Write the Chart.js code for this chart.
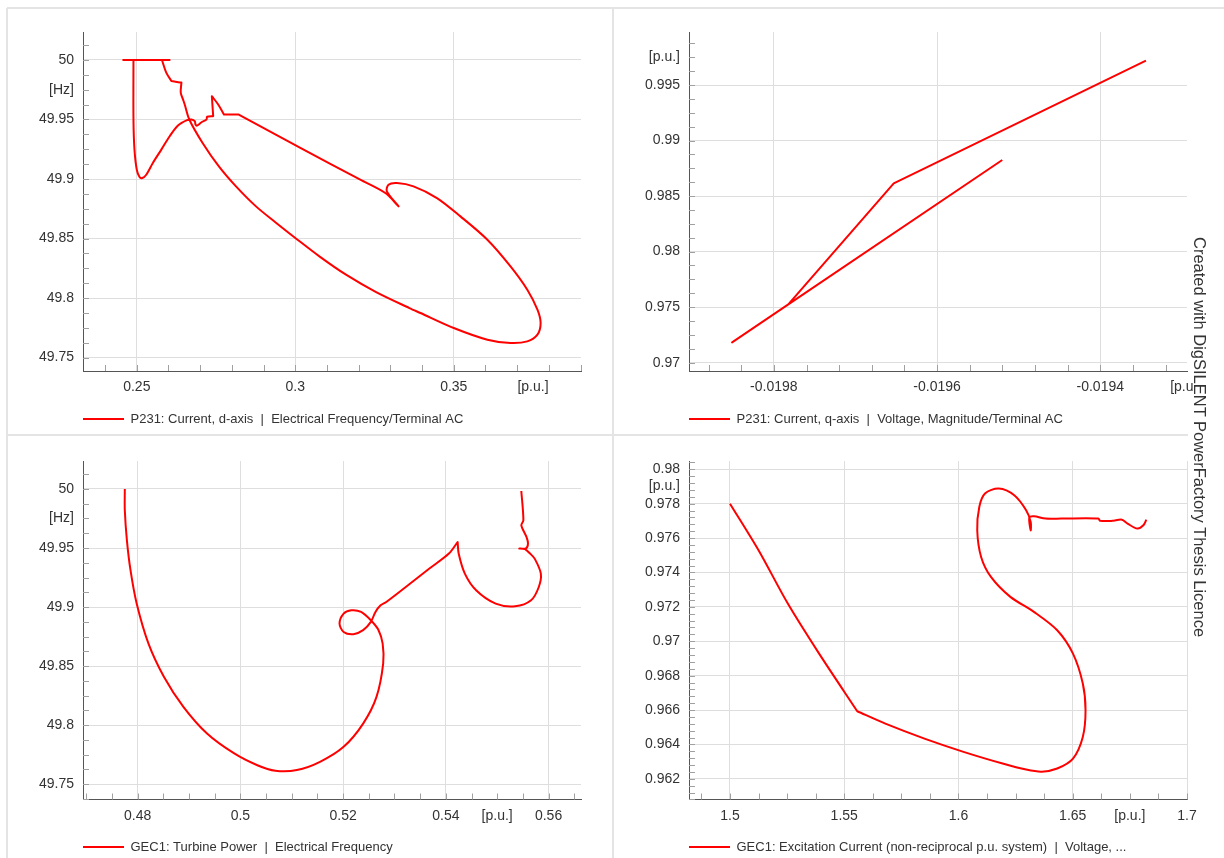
<!DOCTYPE html>
<html>
<head>
<meta charset="utf-8">
<script src="https://cdn.jsdelivr.net/npm/chart.js@4.4.1/dist/chart.umd.min.js"></script>
<style>
  html, body { margin: 0; padding: 0; background: #fff; width: 1224px; height: 858px; overflow: hidden; }
  body { position: relative; }
  canvas { position: absolute; }
  .rule { position: absolute; background: #e4e4e4; }
  #credit { position: absolute; left: 1190px; top: 237px; writing-mode: vertical-rl; font: 16.5px "Liberation Sans", Arial, sans-serif; line-height: 20px; color: #333; white-space: nowrap; }
</style>
</head>
<body>
<div class="rule" style="left:7px;top:7px;width:1217px;height:2px"></div>
<div class="rule" style="left:6px;top:8px;width:2px;height:850px"></div>
<div class="rule" style="left:612px;top:8px;width:2px;height:850px"></div>
<div class="rule" style="left:7px;top:434px;width:1181px;height:2px"></div>
<canvas id="c1" width="606" height="440" style="left:7px;top:8px"></canvas>
<canvas id="c2" width="606" height="440" style="left:613px;top:8px"></canvas>
<canvas id="c3" width="606" height="440" style="left:7px;top:436px"></canvas>
<canvas id="c4" width="606" height="440" style="left:613px;top:436px"></canvas>
<div id="credit">Created with DigSILENT PowerFactory Thesis Licence</div>
<script>
// P231: d-axis current vs frequency
var p1X = [0.2606, 0.2458, 0.24895, 0.24895, 0.24895, 0.24927, 0.25, 0.25086, 0.25171, 0.25298, 0.25507, 0.25774, 0.26037, 0.263, 0.26585, 0.26725, 0.2683, 0.26852, 0.26902, 0.27042, 0.272, 0.2722, 0.2741, 0.2741, 0.27368, 0.27368, 0.27568, 0.27749, 0.27749, 0.28202, 0.28202, 0.3016, 0.3205, 0.3284, 0.3326, 0.3326, 0.3289, 0.3294, 0.3321, 0.3373, 0.3447, 0.3521, 0.3606, 0.3679, 0.3732, 0.3764, 0.3774, 0.3764, 0.3732, 0.3679, 0.3606, 0.35, 0.3395, 0.336, 0.3255, 0.316, 0.3076, 0.3, 0.2938, 0.2876, 0.2813, 0.2759, 0.27076, 0.26656, 0.26512, 0.26458, 0.26386, 0.26408, 0.26408, 0.26268, 0.2609, 0.2609, 0.2593, 0.25793];
var p1Y = [50, 50, 50, 50, 49.95, 49.9247, 49.9078, 49.9017, 49.9008, 49.9036, 49.9135, 49.9247, 49.9359, 49.9449, 49.9494, 49.95, 49.9486, 49.9458, 49.9449, 49.9477, 49.95, 49.9523, 49.9528, 49.9528, 49.9696, 49.9696, 49.9626, 49.9542, 49.9542, 49.9542, 49.9542, 49.9261, 49.8994, 49.8882, 49.877, 49.877, 49.8896, 49.8952, 49.8966, 49.8938, 49.884, 49.8686, 49.849, 49.8266, 49.807, 49.7902, 49.779, 49.7692, 49.7636, 49.7622, 49.765, 49.7748, 49.7874, 49.7916, 49.805, 49.8196, 49.835, 49.8505, 49.8635, 49.877, 49.8938, 49.9106, 49.9303, 49.95, 49.9626, 49.9669, 49.9725, 49.981, 49.981, 49.9815, 49.9823, 49.9823, 49.9894, 50];
var p1XTicks = [0.25, 0.3, 0.35, 0.375];
var p1XLabels = ['0.25', '0.3', '0.35', '[p.u.]'];
var p1YTicks = [49.75, 49.8, 49.85, 49.9, 49.95, 49.975, 50];
var p1YLabels = ['49.75', '49.8', '49.85', '49.9', '49.95', '[Hz]', '50'];

// P231: q-axis current vs voltage
var p2X = [-0.0195201, -0.0197823, -0.0198512, -0.0197823, -0.0196531, -0.019344];
var p2Y = [0.988247, 0.975252, 0.97183, 0.975252, 0.986147, 0.997191];
var p2XTicks = [-0.0198, -0.0196, -0.0194, -0.0193];
var p2XLabels = ['-0.0198', '-0.0196', '-0.0194', '[p.u'];
var p2YTicks = [0.97, 0.975, 0.98, 0.985, 0.99, 0.995, 0.9975];
var p2YLabels = ['0.97', '0.975', '0.98', '0.985', '0.99', '0.995', '[p.u.]'];

// GEC1: turbine power vs frequency
var p3X = [0.47749, 0.47749, 0.4779, 0.4786, 0.4798, 0.4821, 0.4851, 0.4889, 0.4935, 0.4988, 0.5033, 0.5068, 0.5110, 0.5155, 0.5201, 0.5239, 0.5265, 0.5278, 0.5277, 0.5269, 0.5254, 0.5235, 0.5216, 0.5201, 0.5193, 0.5201, 0.5220, 0.5239, 0.5254, 0.5263, 0.5273, 0.5284, 0.5322, 0.5368, 0.5406, 0.5423, 0.5423, 0.5425, 0.5437, 0.5459, 0.5497, 0.5535, 0.5566, 0.5581, 0.5585, 0.5573, 0.5564, 0.5554, 0.5543, 0.5556, 0.5560, 0.5557, 0.5547, 0.5551, 0.5547];
var p3Y = [50, 49.982, 49.9565, 49.9312, 49.903, 49.869, 49.841, 49.8155, 49.7929, 49.776, 49.766, 49.7613, 49.7619, 49.7689, 49.7816, 49.8013, 49.8239, 49.8521, 49.869, 49.8804, 49.8888, 49.8959, 49.8973, 49.8945, 49.886, 49.8789, 49.877, 49.8804, 49.8874, 49.8959, 49.9015, 49.9043, 49.917, 49.9326, 49.9453, 49.9551, 49.9551, 49.9453, 49.9283, 49.9142, 49.9029, 49.9007, 49.9058, 49.917, 49.9283, 49.941, 49.9453, 49.949, 49.9496, 49.9496, 49.9538, 49.9594, 49.9693, 49.9735, 49.9983];
var p3XTicks = [0.48, 0.5, 0.52, 0.54, 0.55, 0.56];
var p3XLabels = ['0.48', '0.5', '0.52', '0.54', '[p.u.]', '0.56'];
var p3YTicks = [49.75, 49.8, 49.85, 49.9, 49.95, 49.975, 50];
var p3YLabels = ['49.75', '49.8', '49.85', '49.9', '49.95', '[Hz]', '50'];

// GEC1: excitation current vs voltage
var p4X = [1.5, 1.5125, 1.5253, 1.539, 1.5557, 1.5557, 1.568, 1.5851, 1.6022, 1.6193, 1.6296, 1.6364, 1.6432, 1.6501, 1.6544, 1.6556, 1.6544, 1.6501, 1.6432, 1.633, 1.6227, 1.6142, 1.6099, 1.6082, 1.6091, 1.6116, 1.6176, 1.6244, 1.6296, 1.6316, 1.6316, 1.631, 1.633, 1.6381, 1.645, 1.6612, 1.662, 1.6672, 1.6715, 1.674, 1.6783, 1.6809, 1.6822];
var p4Y = [0.978, 0.97529, 0.97219, 0.96928, 0.96593, 0.96593, 0.96521, 0.96434, 0.96357, 0.96289, 0.96254, 0.96242, 0.9626, 0.96318, 0.96444, 0.96599, 0.96754, 0.96928, 0.97064, 0.97171, 0.97258, 0.97374, 0.9749, 0.97645, 0.97781, 0.97859, 0.97888, 0.97849, 0.97762, 0.97694, 0.97645, 0.97719, 0.97727, 0.97713, 0.97713, 0.97713, 0.977, 0.977, 0.97707, 0.97684, 0.97655, 0.97674, 0.97707];
var p4XTicks = [1.5, 1.55, 1.6, 1.65, 1.675, 1.7];
var p4XLabels = ['1.5', '1.55', '1.6', '1.65', '[p.u.]', '1.7'];
var p4YTicks = [0.962, 0.964, 0.966, 0.968, 0.97, 0.972, 0.974, 0.976, 0.978, 0.979, 0.98];
var p4YLabels = ['0.962', '0.964', '0.966', '0.968', '0.97', '0.972', '0.974', '0.976', '0.978', '[p.u.]', '0.98'];

var FONT = '"Liberation Sans", Arial, sans-serif';

// small inside tick marks on both axes, legend lined up with the plot's left edge
var minorTicks = {
  id: 'minorTicks',
  afterLayout: function(chart) {
    if (chart.legend) chart.legend.left = chart.chartArea.left - 10;
  },
  beforeDatasetsDraw: function(chart, args, opts) {
    var ctx = chart.ctx, a = chart.chartArea, x = chart.scales.x, y = chart.scales.y;
    ctx.save();
    ctx.strokeStyle = '#a0a0a0';
    ctx.lineWidth = 1;
    ctx.beginPath();
    var k, p;
    for (k = Math.ceil(x.min / opts.x - 1e-6); k * opts.x <= x.max + 1e-12; k++) {
      p = Math.round(x.getPixelForValue(k * opts.x)) + 0.5;
      ctx.moveTo(p, a.bottom);
      ctx.lineTo(p, a.bottom - 6);
    }
    for (k = Math.ceil(y.min / opts.y - 1e-6); k * opts.y <= y.max + 1e-12; k++) {
      p = Math.round(y.getPixelForValue(k * opts.y)) + 0.5;
      ctx.moveTo(a.left, p);
      ctx.lineTo(a.left + 6, p);
    }
    ctx.stroke();
    ctx.restore();
  }
};

function gridColor(labels) {
  return function(c) {
    return labels[c.index] && labels[c.index].charAt(0) === '[' ? 'rgba(0,0,0,0)' : '#dedede';
  };
}

function makeChart(id, name, xs, ys, xr, yr, xTicks, xLabels, yTicks, yLabels, minor, tension, top, xH, bottom) {
  var pts = xs.map(function(v, i) { return {x: v, y: ys[i]}; });
  return new Chart(document.getElementById(id), {
    type: 'scatter',
    data: {
      datasets: [{
        label: name,
        data: pts,
        showLine: true,
        borderColor: '#ff0000',
        backgroundColor: '#ff0000',
        borderWidth: 2,
        pointRadius: 0,
        tension: tension,
        borderJoinStyle: 'round'
      }]
    },
    plugins: [minorTicks],
    options: {
      responsive: false,
      animation: false,
      devicePixelRatio: 1,
      layout: { padding: { left: 16, right: 32, top: top, bottom: bottom } },
      plugins: {
        tooltip: { enabled: false },
        minorTicks: minor,
        legend: {
          position: 'bottom',
          align: 'start',
          labels: {
            usePointStyle: true,
            pointStyle: 'line',
            pointStyleWidth: 41,
            padding: 10,
            color: '#333',
            font: { family: FONT, size: 13 }
          }
        }
      },
      scales: {
        x: {
          type: 'linear',
          min: xr[0], max: xr[1],
          afterBuildTicks: function(s) { s.ticks = xTicks.map(function(v) { return {value: v}; }); },
          afterFit: function(s) { s.height = xH; },
          grid: { color: gridColor(xLabels), drawTicks: false },
          border: { color: '#555', width: 1 },
          ticks: {
            autoSkip: false, maxRotation: 0, padding: 8, color: '#333',
            font: { family: FONT, size: 14 },
            callback: function(v, i) { return xLabels[i]; }
          }
        },
        y: {
          type: 'linear',
          min: yr[0], max: yr[1],
          afterBuildTicks: function(s) { s.ticks = yTicks.map(function(v) { return {value: v}; }); },
          afterFit: function(s) { s.width = 60; },
          grid: { color: gridColor(yLabels), drawTicks: false },
          border: { color: '#555', width: 1 },
          ticks: {
            autoSkip: false, padding: 9, color: '#333',
            font: { family: FONT, size: 14 },
            callback: function(v, i) { return yLabels[i]; }
          }
        }
      }
    }
  });
}

makeChart('c1', 'P231: Current, d-axis  |  Electrical Frequency/Terminal AC', p1X, p1Y,
  [0.23303, 0.39014], [49.7387, 50.0235], p1XTicks, p1XLabels, p1YTicks, p1YLabels,
  {x: 0.01, y: 0.0125}, 0.3, 24, 31.5, 12.5);
makeChart('c2', 'P231: Current, q-axis  |  Voltage, Magnitude/Terminal AC', p2X, p2Y,
  [-0.019904, -0.0192937], [0.96925, 0.999775], p2XTicks, p2XLabels, p2YTicks, p2YLabels,
  {x: 0.00004, y: 0.00125}, 0, 24, 31.5, 12.5);
makeChart('c3', 'GEC1: Turbine Power  |  Electrical Frequency', p3X, p3Y,
  [0.46935, 0.56632], [49.737, 50.0237], p3XTicks, p3XLabels, p3YTicks, p3YLabels,
  {x: 0.005, y: 0.0125}, 0.3, 25, 31, 12.5);
makeChart('c4', 'GEC1: Excitation Current (non-reciprocal p.u. system)  |  Voltage, ...', p4X, p4Y,
  [1.48206, 1.7], [0.9608, 0.98048], p4XTicks, p4XLabels, p4YTicks, p4YLabels,
  {x: 0.0125, y: 0.0004}, 0.3, 25, 31, 12.5);
</script>
</body>
</html>
